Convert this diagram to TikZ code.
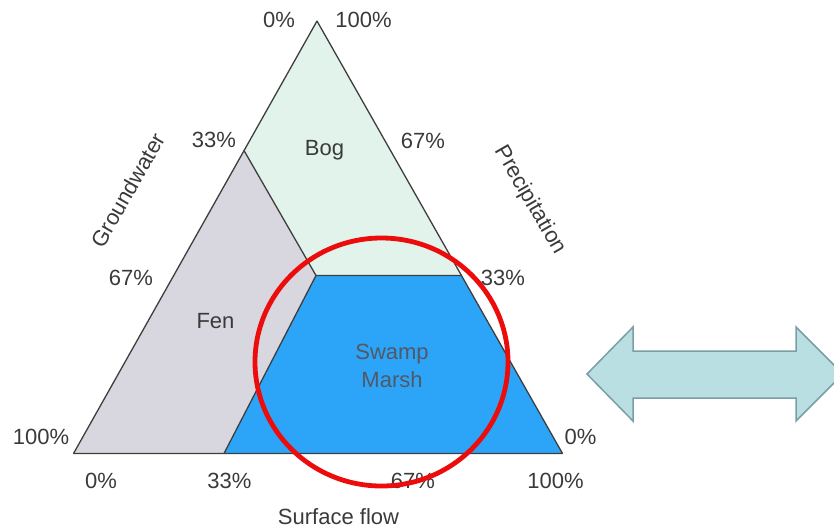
\documentclass[tikz,border=0pt]{standalone}
\usepackage{fontspec}
\setmainfont{Liberation Sans}
\usetikzlibrary{calc,positioning}

\definecolor{bogcol}{RGB}{226,243,236}
\definecolor{fencol}{RGB}{216,214,222}
\definecolor{swampcol}{RGB}{44,165,248}
\definecolor{edgecol}{RGB}{62,62,62}
\definecolor{textcol}{RGB}{58,58,58}
\definecolor{marshtext}{RGB}{82,88,100}
\definecolor{ringcol}{RGB}{236,12,12}
\definecolor{arrowfill}{RGB}{185,223,227}
\definecolor{arrowline}{RGB}{122,158,163}

\begin{document}
\begin{tikzpicture}[x=1pt,y=-1pt,line join=bevel,
  zone/.style={draw=edgecol,line width=1.3pt},
  lbl/.style={text=textcol,inner sep=0pt,font=\fontsize{22}{28}\selectfont},
  ]
\useasboundingbox (0,0) rectangle (834,528);
%%
\coordinate (top) at (317,21);
\coordinate (bl) at (73.5,453.5);
\coordinate (br) at (562.5,453.5);
\coordinate (gw33) at (244,150.5);
\coordinate (mid) at (316,275.5);
\coordinate (pr33) at (461.5,275.5);
\coordinate (sf33) at (224,453.5);
%
\fill [bogcol] (top) -- (pr33) -- (mid) -- (gw33) -- cycle;
\fill [fencol] (gw33) -- (mid) -- (sf33) -- (bl) -- cycle;
\fill [swampcol] (mid) -- (pr33) -- (br) -- (sf33) -- cycle;
\draw [zone] (top) -- (br) -- (bl) -- cycle;
\draw [zone] (gw33) -- (mid) -- (pr33);
\draw [zone] (mid) -- (sf33);
%
\node (bog) at (324.5,150.5) [lbl] {Bog};
\node (fen) at (215.5,321.5) [lbl] {Fen};
\node (swamp) at (392,366) [lbl,align=center,text=marshtext] {Swamp\\Marsh};
%
\node (t0) at (279,20) [lbl] {0\%};
\node (t100) at (363.5,20) [lbl] {100\%};
\node (l33) at (214,140) [lbl] {33\%};
\node (r67) at (423,141) [lbl] {67\%};
\node (l67) at (131,278) [lbl] {67\%};
\node (r33) at (503,278) [lbl] {33\%};
\node (l100) at (41,436.5) [lbl] {100\%};
\node (r0) at (580.5,436.5) [lbl] {0\%};
\node (b0) at (101,481) [lbl] {0\%};
\node (b33) at (229.5,481) [lbl] {33\%};
\node (b67) at (413,481) [lbl] {67\%};
\node (b100) at (555.5,481) [lbl] {100\%};
%
\node (gw) at (128,190) [lbl,rotate=60] {Groundwater};
\node (pr) at (530,200) [lbl,rotate=-60] {Precipitation};
\node (sf) at (338.5,517) [lbl] {Surface flow};
%
\draw [ringcol,line width=4.8pt] (381.5,362) ellipse [x radius=126.5,y radius=124];
%
\draw [fill=arrowfill,draw=arrowline,line width=1.5pt,line join=miter]
  (587,374) -- (633,327) -- (633,351) -- (796,351) -- (796,327) -- (843,374)
  -- (796,421) -- (796,398) -- (633,398) -- (633,421) -- cycle;
%
\end{tikzpicture}
\end{document}
